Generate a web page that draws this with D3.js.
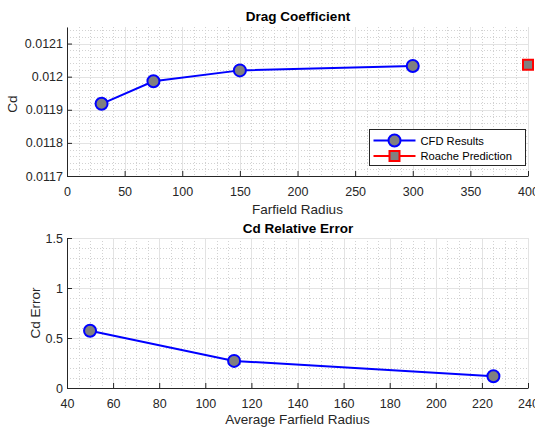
<!DOCTYPE html>
<html>
<head>
<meta charset="utf-8">
<script src="https://cdn.jsdelivr.net/npm/d3@7/dist/d3.min.js"></script>
<style>
  body { margin: 0; background: #fff; }
  svg { display: block; font-family: "Liberation Sans", Arial, sans-serif; }
</style>
</head>
<body>
<svg id="chart" width="535" height="427"></svg>
<script>
// Drag coefficient convergence with farfield radius
const farfieldRadius = [30, 75, 150, 300];
const cdValues = [0.011918, 0.011986, 0.012019, 0.012032];
const roacheRadius = [400];
const roacheCd = [0.012036];

// Relative error between successive farfield radii
const avgFarfieldRadius = [50, 112.5, 225];
const cdError = [0.572, 0.271, 0.117];

const topXTicks = [0, 50, 100, 150, 200, 250, 300, 350, 400];
const topYTicks = [0.0117, 0.0118, 0.0119, 0.012, 0.0121];
const topYTickLabels = ["0.0117", "0.0118", "0.0119", "0.012", "0.0121"];
const botXTicks = [40, 60, 80, 100, 120, 140, 160, 180, 200, 220, 240];
const botYTicks = [0, 0.5, 1, 1.5];
const botYTickLabels = ["0", "0.5", "1", "1.5"];

const svg = d3.select("#chart");
const axisColor = "#262626";
const fontFamily = "Liberation Sans, Arial, sans-serif";

function panel(cfg) {
  const g = svg.append("g");
  const x = d3.scaleLinear().domain(cfg.xDomain).range([cfg.left, cfg.right]);
  const y = d3.scaleLinear().domain(cfg.yDomain).range([cfg.bottom, cfg.top]);

  // minor grid (dotted)
  const xMinor = d3.range(cfg.xDomain[0], cfg.xDomain[1] + 1e-9, cfg.xMinor);
  const yMinor = d3.range(0, Math.round((cfg.yDomain[1] - cfg.yDomain[0]) / cfg.yMinor) + 1)
    .map(i => cfg.yDomain[0] + i * cfg.yMinor);
  g.append("g").selectAll("line").data(xMinor).join("line")
    .attr("x1", d => Math.round(x(d)) + 0.5).attr("x2", d => Math.round(x(d)) + 0.5)
    .attr("y1", cfg.top).attr("y2", cfg.bottom)
    .attr("stroke", "#d2d2d2").attr("stroke-width", 1).attr("stroke-dasharray", "1,2");
  g.append("g").selectAll("line").data(yMinor).join("line")
    .attr("y1", d => Math.round(y(d)) + 0.5).attr("y2", d => Math.round(y(d)) + 0.5)
    .attr("x1", cfg.left).attr("x2", cfg.right)
    .attr("stroke", "#d2d2d2").attr("stroke-width", 1).attr("stroke-dasharray", "1,2");

  // major grid (solid)
  g.append("g").selectAll("line").data(cfg.xTicks).join("line")
    .attr("x1", d => Math.round(x(d)) + 0.5).attr("x2", d => Math.round(x(d)) + 0.5)
    .attr("y1", cfg.top).attr("y2", cfg.bottom)
    .attr("stroke", "#e3e3e3").attr("stroke-width", 1);
  g.append("g").selectAll("line").data(cfg.yTicks).join("line")
    .attr("y1", d => Math.round(y(d)) + 0.5).attr("y2", d => Math.round(y(d)) + 0.5)
    .attr("x1", cfg.left).attr("x2", cfg.right)
    .attr("stroke", "#e3e3e3").attr("stroke-width", 1);

  // axes with inward ticks
  const xAxis = d3.axisBottom(x).tickValues(cfg.xTicks).tickSizeInner(-5).tickSizeOuter(0)
    .tickFormat(d3.format("d"));
  const gx = g.append("g").attr("transform", `translate(0,${cfg.bottom})`).call(xAxis);
  gx.select(".domain").attr("stroke", axisColor);
  gx.selectAll(".tick line").attr("stroke", axisColor);
  gx.selectAll(".tick text").attr("fill", axisColor).attr("font-size", 12.5)
    .attr("font-family", fontFamily).attr("dy", null).attr("y", 20);

  const yAxis = d3.axisLeft(y).tickValues(cfg.yTicks).tickSizeInner(-5).tickSizeOuter(0)
    .tickFormat((d, i) => cfg.yTickLabels[i]);
  const gy = g.append("g").attr("transform", `translate(${cfg.left},0)`).call(yAxis);
  gy.select(".domain").attr("stroke", axisColor);
  gy.selectAll(".tick line").attr("stroke", axisColor);
  gy.selectAll(".tick text").attr("fill", axisColor).attr("font-size", 12.5)
    .attr("font-family", fontFamily).attr("x", -4);

  // titles and labels
  g.append("text").attr("x", (cfg.left + cfg.right) / 2 + 0.5).attr("y", cfg.top - cfg.titleGap)
    .attr("text-anchor", "middle").attr("font-weight", "bold").attr("font-size", 13.5)
    .attr("fill", "#000").text(cfg.title);
  g.append("text").attr("x", (cfg.left + cfg.right) / 2).attr("y", cfg.bottom + cfg.xLabelGap)
    .attr("text-anchor", "middle").attr("font-size", 13.5).attr("fill", axisColor).text(cfg.xLabel);
  g.append("text")
    .attr("transform", `translate(${cfg.yLabelX},${cfg.yLabelY}) rotate(-90)`)
    .attr("text-anchor", "middle").attr("font-size", 13.5).attr("fill", axisColor).text(cfg.yLabel);

  return { g, x, y };
}

// Top panel: drag coefficient
const p1 = panel({
  left: 67, right: 528, top: 27, bottom: 176,
  xDomain: [0, 400], yDomain: [0.0117, 0.01215],
  xTicks: topXTicks, yTicks: topYTicks, yTickLabels: topYTickLabels,
  xMinor: 10, yMinor: 0.00002,
  title: "Drag Coefficient", titleGap: 6,
  xLabel: "Farfield Radius", xLabelGap: 38,
  yLabel: "Cd", yLabelX: 17, yLabelY: 104
});

const cfdData = farfieldRadius.map((r, i) => [r, cdValues[i]]);
p1.g.append("path").datum(cfdData)
  .attr("d", d3.line().x(d => p1.x(d[0])).y(d => p1.y(d[1])))
  .attr("fill", "none").attr("stroke", "#0000ff").attr("stroke-width", 2);
p1.g.selectAll("circle.cfd").data(cfdData).join("circle").attr("class", "cfd")
  .attr("cx", d => p1.x(d[0])).attr("cy", d => p1.y(d[1])).attr("r", 6)
  .attr("fill", "#808080").attr("stroke", "#0000ff").attr("stroke-width", 2);

const roacheData = roacheRadius.map((r, i) => [r, roacheCd[i]]);
p1.g.selectAll("rect.roache").data(roacheData).join("rect").attr("class", "roache")
  .attr("x", d => p1.x(d[0]) - 5).attr("y", d => p1.y(d[1]) - 5)
  .attr("width", 10).attr("height", 10)
  .attr("fill", "#808080").attr("stroke", "#ff0000").attr("stroke-width", 2);

// Legend
const leg = p1.g.append("g").attr("transform", "translate(369.5,129.5)");
leg.append("rect").attr("width", 156).attr("height", 36)
  .attr("fill", "#fff").attr("stroke", axisColor).attr("stroke-width", 1);
const legItems = [
  { label: "CFD Results", color: "#0000ff", shape: "circle" },
  { label: "Roache Prediction", color: "#ff0000", shape: "square" }
];
legItems.forEach((it, i) => {
  const cy = 11 + i * 15.5;
  leg.append("line").attr("x1", 4).attr("x2", 46).attr("y1", cy).attr("y2", cy)
    .attr("stroke", it.color).attr("stroke-width", 2);
  if (it.shape === "circle") {
    leg.append("circle").attr("cx", 25).attr("cy", cy).attr("r", 6)
      .attr("fill", "#808080").attr("stroke", it.color).attr("stroke-width", 2);
  } else {
    leg.append("rect").attr("x", 20).attr("y", cy - 5).attr("width", 10).attr("height", 10)
      .attr("fill", "#808080").attr("stroke", it.color).attr("stroke-width", 2);
  }
  leg.append("text").attr("x", 51).attr("y", cy + 4).attr("font-size", 11.2)
    .attr("fill", "#000").text(it.label);
});

// Bottom panel: relative error
const p2 = panel({
  left: 67, right: 528, top: 238, bottom: 388,
  xDomain: [40, 240], yDomain: [0, 1.5],
  xTicks: botXTicks, yTicks: botYTicks, yTickLabels: botYTickLabels,
  xMinor: 5, yMinor: 0.1,
  title: "Cd Relative Error", titleGap: 5,
  xLabel: "Average Farfield Radius", xLabelGap: 36,
  yLabel: "Cd Error", yLabelX: 40, yLabelY: 313
});

const errData = avgFarfieldRadius.map((r, i) => [r, cdError[i]]);
p2.g.append("path").datum(errData)
  .attr("d", d3.line().x(d => p2.x(d[0])).y(d => p2.y(d[1])))
  .attr("fill", "none").attr("stroke", "#0000ff").attr("stroke-width", 2);
p2.g.selectAll("circle.err").data(errData).join("circle").attr("class", "err")
  .attr("cx", d => p2.x(d[0])).attr("cy", d => p2.y(d[1])).attr("r", 6)
  .attr("fill", "#808080").attr("stroke", "#0000ff").attr("stroke-width", 2);
</script>
</body>
</html>
